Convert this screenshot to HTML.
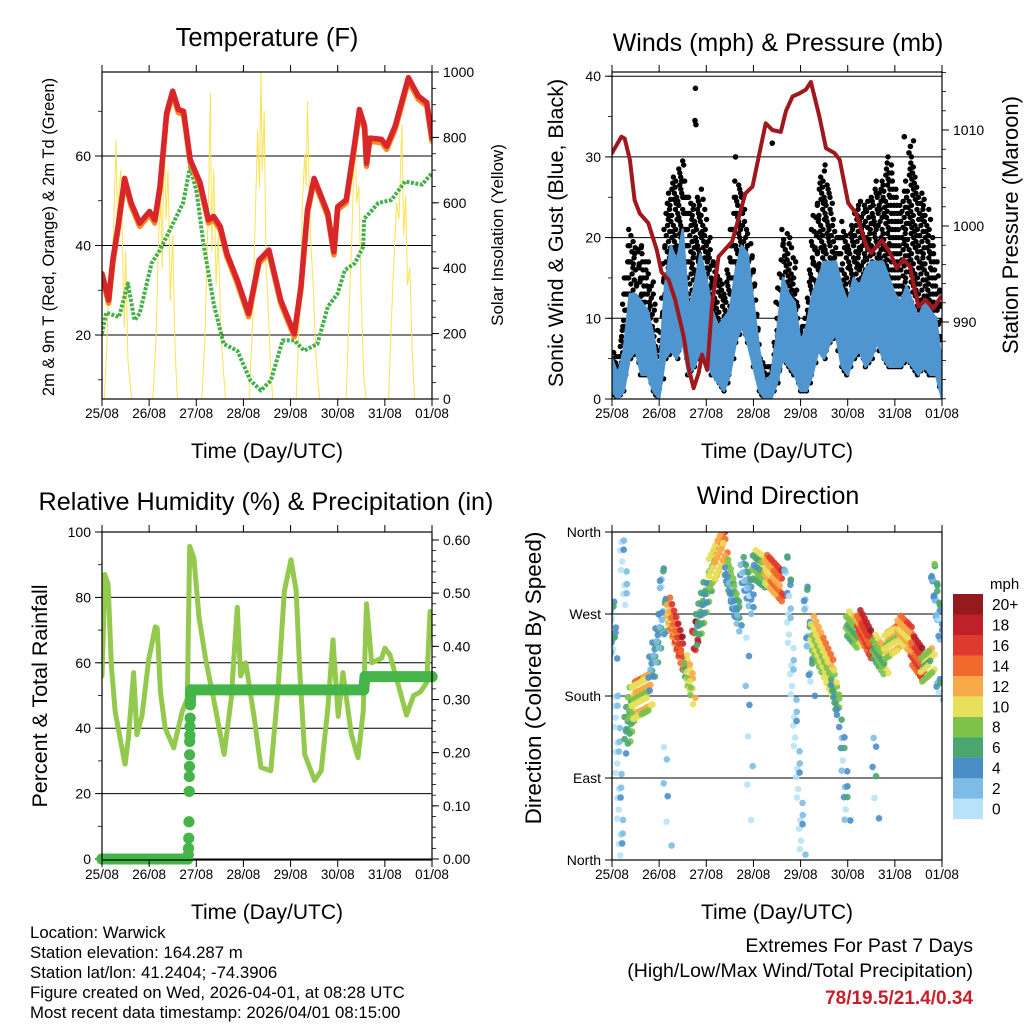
<!DOCTYPE html>
<html><head><meta charset="utf-8"><title>Weather Station Summary</title>
<style>
html,body{margin:0;padding:0;background:#fff;}
svg{display:block;font-family:"Liberation Sans",Arial,sans-serif;}
text{fill:#000;}
</style></head>
<body>
<svg id="chart" xmlns="http://www.w3.org/2000/svg" width="1024" height="1024" viewBox="0 0 1024 1024">
<rect x="0" y="0" width="1024" height="1024" fill="#fff"/>
<text x="267" y="46" font-size="25.5" text-anchor="middle">Temperature (F)</text>
<text x="778" y="51" font-size="25" text-anchor="middle">Winds (mph) &amp; Pressure (mb)</text>
<text x="266" y="510" font-size="25.2" text-anchor="middle">Relative Humidity (%) &amp; Precipitation (in)</text>
<text x="778" y="504" font-size="25" text-anchor="middle">Wind Direction</text>
<text x="267" y="458" font-size="21" text-anchor="middle">Time (Day/UTC)</text>
<text x="777" y="458" font-size="21" text-anchor="middle">Time (Day/UTC)</text>
<text x="267" y="919" font-size="21" text-anchor="middle">Time (Day/UTC)</text>
<text x="777" y="919" font-size="21" text-anchor="middle">Time (Day/UTC)</text>
<text transform="translate(54,237) rotate(-90)" font-size="16.5" text-anchor="middle">2m &amp; 9m T (Red, Orange) &amp; 2m Td (Green)</text>
<text transform="translate(503,235) rotate(-90)" font-size="17" text-anchor="middle">Solar Insolation (Yellow)</text>
<text transform="translate(563,233) rotate(-90)" font-size="21.5" text-anchor="middle">Sonic Wind &amp; Gust (Blue, Black)</text>
<text transform="translate(1018,225) rotate(-90)" font-size="22" text-anchor="middle">Station Pressure (Maroon)</text>
<text transform="translate(47,696) rotate(-90)" font-size="21.5" text-anchor="middle">Percent &amp; Total Rainfall</text>
<text transform="translate(541,678) rotate(-90)" font-size="22.5" text-anchor="middle">Direction (Colored By Speed)</text>
<g font-size="16.8">
<text x="30" y="938">Location: Warwick</text>
<text x="30" y="958">Station elevation: 164.287 m</text>
<text x="30" y="978">Station lat/lon: 41.2404; -74.3906</text>
<text x="30" y="998">Figure created on Wed, 2026-04-01, at 08:28 UTC</text>
<text x="30" y="1018">Most recent data timestamp: 2026/04/01 08:15:00</text>
</g>
<text x="973" y="952" font-size="19.5" text-anchor="end">Extremes For Past 7 Days</text>
<text x="973" y="977" font-size="19.5" text-anchor="end">(High/Low/Max Wind/Total Precipitation)</text>
<text x="973" y="1004" font-size="19" font-weight="bold" text-anchor="end" style="fill:#c8202a">78/19.5/21.4/0.34</text>
</svg>
<script>
// ---- data ----
const dayLabels = ["25/08","26/08","27/08","28/08","29/08","30/08","31/08","01/08"];
const tempT = [0,0.09,0.14,0.23,0.34,0.48,0.62,0.80,1.01,1.12,1.23,1.37,1.5,1.62,1.73,1.87,2.08,2.26,2.37,2.51,2.65,2.87,3.11,3.33,3.54,3.79,4.08,4.22,4.36,4.5,4.65,4.79,4.92,5.0,5.18,5.36,5.46,5.57,5.61,5.68,5.93,6.04,6.22,6.5,6.71,6.89,7.0];
const tempV = [33.7,30,27.8,36.7,44.2,55,49.5,45,47.6,45.7,53.2,69.6,74.5,70.4,70,59.2,54,45.7,46.5,44.2,38.2,32.3,24.8,36.7,39,27.8,20.3,30.8,48,55,51,47.2,38.6,48.7,50.2,62.9,70.4,66.7,58.4,64,63.7,62.2,66.7,77.5,73.4,71.9,64];
const dewT = [0,0.09,0.36,0.55,0.69,0.80,1.05,1.23,1.44,1.72,1.87,2.01,2.15,2.37,2.58,2.87,3.15,3.37,3.58,3.83,4.08,4.29,4.57,4.79,5.0,5.15,5.36,5.54,5.56,5.61,5.86,6.14,6.43,6.79,7.0];
const dewV = [20.3,25,24,31.5,23.3,24.8,36,39,43.5,49.5,57.7,51.7,40.5,27,18,16.5,9.8,7.6,9.8,18.8,18.8,16.5,18,26.3,29.3,34.5,36,39.7,46,46.5,49.5,50.2,54.3,53.6,56.2];
const solarT = [0,0.05,0.1,0.15,0.2,0.25,0.3,0.33,0.36,0.4,0.43,0.47,0.5,0.55,0.6,0.63,1.08,1.15,1.2,1.25,1.28,1.32,1.36,1.4,1.45,1.5,1.55,1.6,2.12,2.18,2.22,2.26,2.3,2.33,2.37,2.42,2.47,2.52,2.58,2.62,3.12,3.2,3.25,3.3,3.34,3.37,3.4,3.44,3.48,3.52,3.57,3.62,4.12,4.2,4.25,4.3,4.33,4.36,4.4,4.44,4.48,4.53,4.58,4.62,5.18,5.25,5.3,5.34,5.37,5.4,5.45,5.5,5.55,5.6,6.08,6.14,6.2,6.25,6.3,6.36,6.4,6.44,6.48,6.53,6.58,6.63,7.0];
const solarV = [0,0,150,400,300,550,790,480,640,700,500,220,450,120,40,0,0,200,500,600,400,786,550,700,300,500,150,0,0,180,400,600,934,450,700,350,500,200,80,0,0,250,550,820,650,1000,700,880,400,300,120,0,0,300,600,750,650,908,600,450,350,150,50,0,0,300,500,700,832,600,650,300,80,0,0,250,450,600,550,837,500,620,350,400,150,0,0];
const windHi = [5,3,6,13,13,12,11,8,3,14,19,17,21,11,14,18,15,11,9,10,11,16,19,18,12,6,2,3,8,15,13,12,7,9,13,15,17,17,17,14,12,15,14,16,17,17,17,15,13,12,14,12,10,12,11,10,4];
const windLo = [1,0,1,5,6,3,3,1,0,5,6,5,7,3,4,6,5,3,2,1,3,7,9,7,4,1,0,0,2,5,4,3,1,1,3,6,5,7,8,4,3,5,6,4,5,7,5,4,4,4,5,4,3,4,3,3,0];
const gustHi = [6,5,14,21,18,20,17,14,6,24,27,28,30,25,24,27,22,18,15,14,20,28,26,21,17,6,4,5,12,22,20,17,8,12,22,26,29,26,20,22,20,23,25,24,26,27,28,30,26,24,27,32,26,25,22,18,10];
const gustOutT = [1.77,1.76,1.78,3.40,6.20,6.30,6.33,2.62];
const gustOutV = [38.5,34.5,34,31.7,32.5,30.5,31.3,30];
const presT = [0,0.2,0.27,0.38,0.48,0.59,0.77,0.95,1.05,1.2,1.34,1.52,1.62,1.73,1.84,1.91,2.02,2.12,2.26,2.55,2.83,2.98,3.26,3.4,3.58,3.69,3.83,3.97,4.11,4.22,4.4,4.54,4.72,4.83,5.01,5.18,5.4,5.5,5.72,5.9,6.04,6.18,6.32,6.5,6.65,6.82,6.97];
const presV = [1007.6,1009.3,1009.1,1006.9,1002.7,1001.3,1000.3,997.5,995.2,994.4,992.3,988.5,985.3,983.1,984.7,986.6,985,991.6,996.8,998.4,1003.4,1004.1,1010.7,1010,1009.8,1012,1013.5,1013.8,1014.2,1015,1011.4,1008.1,1007.6,1006.9,1002.4,1001.3,997.8,997.2,998.5,997.2,995.6,996.5,995.8,991.6,992.3,991.4,992.6];
const rhT = [0,0.03,0.06,0.13,0.2,0.28,0.46,0.49,0.56,0.67,0.74,0.85,0.99,1.13,1.17,1.24,1.34,1.52,1.7,1.81,1.86,1.95,2.06,2.2,2.38,2.59,2.74,2.87,2.94,3.05,3.23,3.37,3.58,3.73,3.87,4.01,4.12,4.19,4.3,4.51,4.65,4.79,4.9,5.01,5.11,5.29,5.43,5.54,5.61,5.72,5.93,6.0,6.11,6.29,6.46,6.61,6.75,6.89,6.96,7.0];
const rhV = [56,70,87,84,59,45,31,29,37,57,38,44,61,71,70.6,51,40,34,45,49,95.6,92,73.7,61,48,32,49,77,56,60,43,28,27,51,82,91.5,82,59,32,24,27,46,67,43.6,57,38,31,45,78,60,61.4,64.5,62.4,53,44,50,51,54,75.7,68.6];
const precipT = [0,1.82,1.83,1.835,1.84,1.845,1.85,1.852,1.855,1.858,1.86,1.863,1.866,1.87,1.873,1.885,5.55,5.58,7.0];
const precipV = [0,0,0.008,0.02,0.039,0.07,0.127,0.155,0.174,0.196,0.221,0.233,0.249,0.265,0.29,0.318,0.318,0.343,0.343];
// wind-direction clusters
const dirT0 = [0.0,0.08,0.2,0.3,0.45,0.8,1.05,1.1,1.19,1.55,1.74,1.8,2.08,2.42,2.55,2.75,2.85,3.0,3.25,3.67,3.74,4.1,4.24,4.67,4.88,4.99,5.23,5.55,5.55,5.8,6.08,6.37,6.58,6.8,6.9];
const dirT1 = [0.05,0.2,0.3,0.45,0.8,1.05,1.12,1.2,1.5,1.72,1.78,2.05,2.4,2.55,2.7,2.96,2.95,3.25,3.6,3.78,4.05,4.24,4.67,4.82,5.0,5.23,5.5,5.8,5.6,6.08,6.37,6.58,6.8,6.97,6.97];
const dirA = [285,185,355,135,175,200,320,130,275,215,260,250,315,320,290,320,250,325,320,330,280,300,250,200,140,260,262,235,140,235,255,230,210,320,200];
const dirB = [222,5,280,180,185,260,255,20,225,185,235,305,350,295,265,285,50,315,300,290,5,190,200,160,40,245,235,215,50,245,240,215,220,250,180];
const dirSpdA = [4,1,2,7,12,6,4,2,13,9,18,8,11,7,6,4,3,8,13,4,1,4,11,8,4,9,16,9,4,11,13,16,10,6,4];
const dirSpdB = [4,2,1,10,11,5,4,2,18,12,18,7,14,6,5,4,2,9,16,4,2,4,12,7,4,10,18,10,4,12,14,18,10,4,4];
const dirSpread = [8,6,6,18,20,14,12,6,16,14,10,14,16,14,14,16,6,16,16,14,10,14,20,14,6,14,14,14,6,14,14,16,14,14,6];
const dirCount = [14,26,12,30,70,28,14,6,50,22,10,34,50,18,22,30,8,30,50,12,35,20,60,22,14,34,44,34,6,40,44,36,30,24,6];
const speedLabels = ["0","2","4","6","8","10","12","14","16","18","20+"];
const speedColors = ["#b9e2f8","#7dbce6","#4a8ec8","#49a66f","#7cc24b","#e7e05a","#f8aa48","#f1692d","#de3a2d","#c0202a","#951a1e"];

// ---- helpers ----
const NS = "http://www.w3.org/2000/svg";
const svg = document.getElementById("chart");
function mk(tag, attrs, parent){
  const e = document.createElementNS(NS, tag);
  for (const k in attrs) e.setAttribute(k, attrs[k]);
  (parent || svg).appendChild(e);
  return e;
}
function interp(T, V, t){
  if (t <= T[0]) return V[0];
  for (let i = 0; i < T.length - 1; i++){
    if (t <= T[i+1]) { const f = (t - T[i]) / (T[i+1] - T[i] || 1); return V[i] + (V[i+1] - V[i]) * f; }
  }
  return V[V.length - 1];
}
function speedColor(s){ return speedColors[Math.max(0, Math.min(10, Math.floor(s / 2)))]; }

const P1 = {l:102, r:432, t:72, b:399};
const P2 = {l:612, r:942, t:72, b:399};
const P3 = {l:102, r:432, t:532, b:860};
const P4 = {l:612, r:942, t:532, b:860};
const xDay = (P, d) => P.l + d * (P.r - P.l) / 7;
const yTemp = v => 156 + (60 - v) * 4.475;
const ySolar = v => 399 - v * 0.327;
const yWind = v => 399 - v * 8.07;
const yPres = p => 322 - (p - 990) * 9.6;
const yRH = v => 859 - v * 3.27;
const yPrecip = v => 859 - v * 531.7;
const yDir = d => 860 - d * 0.9111;

function clip(id, P){
  const c = mk("clipPath", {id:id});
  mk("rect", {x:P.l, y:P.t, width:P.r-P.l, height:P.b-P.t}, c);
}
clip("c1", P1); clip("c2", P2); clip("c3", P3); clip("c4", P4);

function xAxis(P, name){
  const g = mk("g", {});
  
  
  dayLabels.forEach((lab, i) => {
    const x = xDay(P, i);
    const t1 = mk("line", {x1:x, x2:x, y1:P.b, y2:P.b+7, stroke:"#000", "stroke-width":1}, g);
    
    
    const t2 = mk("line", {x1:x, x2:x, y1:P.t, y2:P.t-7, stroke:"#000", "stroke-width":1}, g);
    
    
    const tx = mk("text", {x:x, y:P.b+19, "font-size":13.5, "text-anchor":"middle"}, g);
    tx.textContent = lab;
    
    
  });
}
function yAxis(P, side, vals, labels, yfn, minors, name, grid){
  const g = mk("g", {});
  
  
  const x0 = side === "left" ? P.l : P.r;
  const dir = side === "left" ? -1 : 1;
  minors.forEach(v => {
    const y = yfn(v);
    const m = mk("line", {x1:x0, x2:x0 + dir*4, y1:y, y2:y, stroke:"#000", "stroke-width":0.8}, g);
    
    
  });
  vals.forEach((v, i) => {
    const y = yfn(v);
    if (grid) {
      const gl = mk("line", {x1:P.l, x2:P.r, y1:y, y2:y, stroke:"#000", "stroke-width":1}, g);
      
      
    }
    const t = mk("line", {x1:x0, x2:x0 + dir*7, y1:y, y2:y, stroke:"#000", "stroke-width":1}, g);
    
    
    const tx = mk("text", {x:x0 + dir*11, y:y+5, "font-size":14, "text-anchor": side === "left" ? "end" : "start"}, g);
    tx.textContent = labels[i];
    
    
  });
}
function frame(P, name){
  const r = mk("rect", {x:P.l, y:P.t, width:P.r-P.l, height:P.b-P.t, fill:"none", stroke:"#000", "stroke-width":1.2});
  
  
}
function polyline(T, V, P, yfn, attrs, name, clipId){
  const pts = T.map((t, i) => xDay(P, t).toFixed(1) + "," + yfn(V[i]).toFixed(1)).join(" ");
  const a = Object.assign({points:pts, fill:"none", "stroke-linejoin":"round", "stroke-linecap":"round"}, attrs);
  if (clipId) a["clip-path"] = "url(#" + clipId + ")";
  const e = mk("polyline", a);
  
  
  return e;
}
const rng = (a, b, s) => { const o = []; for (let v = a; v <= b + 1e-9; v += s) o.push(+v.toFixed(4)); return o; };

// ---- Panel 1 ----
yAxis(P1, "left", [20,40,60], ["20","40","60"], yTemp, [10,30,50,70], "temp-y-axis", true);
yAxis(P1, "right", [0,200,400,600,800,1000], ["0","200","400","600","800","1000"], ySolar, rng(0,1000,50), "solar-y-axis", false);
polyline(solarT, solarV, P1, ySolar, {stroke:"#fde24f", "stroke-width":1}, "solar-line", "c1");
polyline(dewT, dewV, P1, yTemp, {stroke:"#45b04a", "stroke-width":4, "stroke-dasharray":"3 1.5", "stroke-linecap":"butt"}, "dewpoint-line", "c1");
polyline(tempT, tempV.map(v => v - 0.7), P1, yTemp, {stroke:"#f58a22", "stroke-width":5.5}, "temp-9m-line", "c1");
polyline(tempT, tempV, P1, yTemp, {stroke:"#d8262a", "stroke-width":5.5}, "temp-2m-line", "c1");
frame(P1, "temp-plot-frame");
xAxis(P1, "temp-x-axis");

// ---- Panel 2 ----
yAxis(P2, "left", [0,10,20,30,40], ["0","10","20","30","40"], yWind, rng(0,40,5), "wind-y-axis", true);
yAxis(P2, "right", [990,1000,1010], ["990","1000","1010"], yPres, rng(982,1016,2), "pressure-y-axis", false);
const windT = windHi.map((_, i) => i * 0.125);
const gustG = mk("g", {"clip-path":"url(#c2)", fill:"#000"});


for (let i = 0; i < windT.length - 1; i++) {
  for (let s = 0; s < 4; s++) {
    const t = windT[i] + 0.125 * s / 4;
    const top = interp(windT, gustHi, t);
    const bot = interp(windT, windLo, t);
    for (let v = bot + (s % 2) * 1.0; v <= top; v += 2) {
      const c = mk("circle", {cx:(xDay(P2, t) + ((v*7) % 3) - 1).toFixed(1), cy:yWind(v).toFixed(1), r:2.7}, gustG);
      
      
    }
  }
}
gustOutT.forEach((t, i) => {
  const c = mk("circle", {cx:xDay(P2, t), cy:yWind(gustOutV[i]), r:2.8, fill:"#000"});
  
  
});
{
  const up = windT.map((t, i) => xDay(P2, t).toFixed(1) + "," + yWind(windHi[i]).toFixed(1));
  const dn = windT.map((t, i) => xDay(P2, t).toFixed(1) + "," + yWind(windLo[i]).toFixed(1)).reverse();
  const band = mk("polygon", {points:up.concat(dn).join(" "), fill:"#4f96d1", stroke:"#4f96d1", "stroke-width":2.5, "stroke-linejoin":"round", "clip-path":"url(#c2)"});
  
  
}
polyline(presT, presV, P2, yPres, {stroke:"#a0171c", "stroke-width":4}, "pressure-line", "c2");
frame(P2, "wind-plot-frame");
xAxis(P2, "wind-x-axis");

// ---- Panel 3 ----
yAxis(P3, "left", [0,20,40,60,80,100], ["0","20","40","60","80","100"], yRH, rng(0,100,10), "rh-y-axis", true);
yAxis(P3, "right", [0,0.1,0.2,0.3,0.4,0.5,0.6], ["0.00","0.10","0.20","0.30","0.40","0.50","0.60"], yPrecip, rng(0,0.6,0.02), "precip-y-axis", false);
polyline(rhT, rhV, P3, yRH, {stroke:"#93c94c", "stroke-width":5}, "rh-line", "c3");
for (let i = 0; i < precipT.length - 1; i++) {
  if (precipT[i+1] - precipT[i] > 0.011 && Math.abs(precipV[i+1] - precipV[i]) < 0.03) {
    const s = mk("line", {x1:xDay(P3, precipT[i]), y1:yPrecip(precipV[i]), x2:xDay(P3, precipT[i+1]), y2:yPrecip(precipV[i+1]), stroke:"#45b54a", "stroke-width":11, "stroke-linecap":"round"});
    
    
  }
}
precipT.forEach((t, i) => {
  const c = mk("circle", {cx:xDay(P3, t), cy:yPrecip(precipV[i]), r:5.6, fill:"#45b54a"});
  
  
});
frame(P3, "rh-plot-frame");
xAxis(P3, "rh-x-axis");

// ---- Panel 4 ----
yAxis(P4, "left", [0,90,180,270,360], ["North","East","South","West","North"], yDir, [], "dir-y-axis", true);
const dirG = mk("g", {"clip-path":"url(#c4)", "fill-opacity":0.9});


const offPat = [-1, 0.4, -0.3, 1, 0, -0.7, 0.7];
const spdPat = [-1.5, 1.5, 0, 2.5, -2.5, 0.8, -0.8];
const xPat = [0, 2, -2, 1, -1, 3, -3];
dirT0.forEach((t0, c) => {
  const n = dirCount[c];
  for (let k = 0; k < n; k++) {
    const f = n > 1 ? k / (n - 1) : 0;
    const t = t0 + (dirT1[c] - t0) * f;
    const d = dirA[c] + (dirB[c] - dirA[c]) * f;
    const sp = dirSpdA[c] + (dirSpdB[c] - dirSpdA[c]) * f;
    const dv = d + offPat[k % 7] * dirSpread[c];
    const sv = sp + spdPat[k % 7];
    const p = mk("circle", {cx:(xDay(P4, t) + xPat[k % 7]).toFixed(1), cy:yDir(Math.max(0, Math.min(360, dv))).toFixed(1), r:3.3, fill:speedColor(sv)}, dirG);
    
    
  }
});
frame(P4, "dir-plot-frame");
xAxis(P4, "dir-x-axis");

// colorbar
const cb = mk("g", {});


const cbTitle = mk("text", {x:990, y:589, "font-size":15}, cb);
cbTitle.textContent = "mph";


speedLabels.forEach((lab, i) => {
  const y = 594 + (10 - i) * 20.45;
  const r = mk("rect", {x:953, y:y.toFixed(1), width:30, height:20.6, fill:speedColors[i]}, cb);
  
  
  const tx = mk("text", {x:992, y:(y + 16).toFixed(1), "font-size":15.5}, cb);
  tx.textContent = lab;
  
  
});
</script>
</body></html>
